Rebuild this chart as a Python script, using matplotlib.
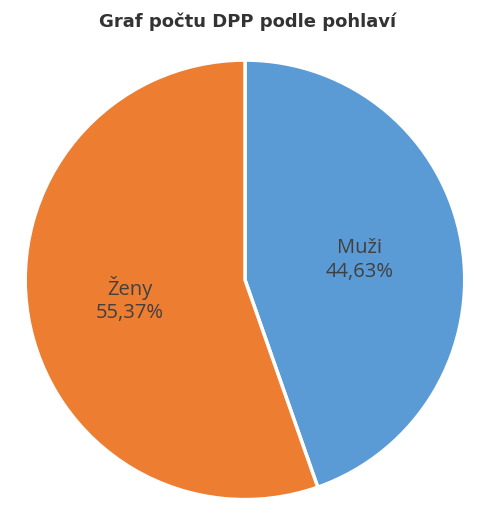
import matplotlib
matplotlib.use("Agg")
import matplotlib.pyplot as plt
import numpy as np

categories = ["Muži", "Ženy"]
values = [44.63, 55.37]
colors = ["#5B9BD5", "#ED7D31"]

fig = plt.figure(figsize=(4.96, 5.28), dpi=100)
ax = fig.add_axes([0.494 - 0.4476, 0.47 - 0.4205, 0.895, 0.841])
wedges, texts = ax.pie(values, colors=colors, startangle=90, counterclock=False,
                       wedgeprops=dict(edgecolor="white", linewidth=2.5))
for w, c, v in zip(wedges, categories, values):
    ang = np.deg2rad((w.theta1 + w.theta2) / 2)
    r = 0.53
    ax.text(r * np.cos(ang), r * np.sin(ang), f"{c}\n{v:.2f}%".replace(".", ","),
            ha="center", va="center", fontsize=14.5, color="#404040",
            family="Open Sans", linespacing=1.25)
ax.set_xlim(-1.01, 1.01)
ax.set_ylim(-1.01, 1.01)
ax.set_aspect("equal")
fig.text(0.5, 0.958, "Graf počtu DPP podle pohlaví", ha="center", va="center",
         fontsize=13, fontweight="bold", color="#333333", family="DejaVu Sans")
fig.savefig("out.png", dpi=100)
